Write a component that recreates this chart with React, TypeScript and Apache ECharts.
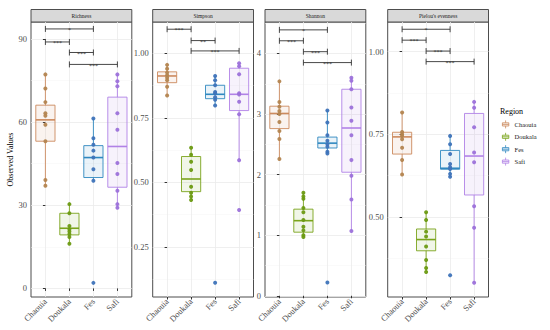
import React, { useEffect, useRef } from 'react';
import * as echarts from 'echarts';

const FONT = '"Liberation Serif", "Times New Roman", serif';

const regions = ['Chaouia', 'Doukala', 'Fes', 'Safi'];
const boxColors = ['#CC8A5E', '#7AA41C', '#2F88C0', '#B182E6'];
const boxFills = ['rgba(204,138,94,0.10)', 'rgba(122,164,28,0.10)', 'rgba(47,136,192,0.10)', 'rgba(177,130,230,0.10)'];
const pointColors = ['#B3844F', '#6C9A12', '#3E73B9', '#9C71DA'];

const panelTitles = ['Richness', 'Simpson', 'Shannon', "Pielou's evenness"];

// box stats per region: [min, q1, median, q3, max]
const richnessBox = [[37, 53.1, 60.8, 66.1, 77.2], [16.1, 19.3, 21.7, 27.1, 30.4], [38.8, 40, 47.2, 51.5, 61.3], [29.1, 36.5, 51.2, 69, 77.2]];
const richnessPoints = [
  [77.2, 72.1, 67.2, 63.2, 62.3, 59, 53.1, 39.1, 37],
  [30.4, 27.1, 22.5, 21.3, 20.5, 19.5, 18.5, 16.1],
  [61.3, 54.2, 51.8, 49.7, 47.2, 43, 38.8, 2],
  [77.2, 74.7, 72.9, 63.2, 57.2, 45.2, 41.3, 35.2, 30.4, 29.1],
];
const richnessBrackets = [[0, 2, 93.6], [0, 1, 88.9], [1, 2, 85.1], [1, 3, 80.8]];
const richnessSig = ['*', '***', '***', '***'];
const richnessRange = [-3.1, 96.1];
const richnessTicks = [0, 30, 60, 90];
const richnessMinor = [15, 45, 75];

const simpsonBox = [[0.836, 0.886, 0.912, 0.928, 0.955], [0.431, 0.464, 0.513, 0.6, 0.634], [0.798, 0.824, 0.841, 0.876, 0.912], [0.586, 0.778, 0.841, 0.942, 0.961]];
const simpsonPoints = [
  [0.955, 0.94, 0.925, 0.915, 0.905, 0.895, 0.87, 0.836],
  [0.634, 0.607, 0.58, 0.548, 0.483, 0.46, 0.445, 0.432],
  [0.912, 0.895, 0.876, 0.85, 0.845, 0.83, 0.82, 0.798, 0.111],
  [0.961, 0.95, 0.919, 0.845, 0.84, 0.812, 0.764, 0.586, 0.393],
];
const simpsonBrackets = [[0, 1, 1.093], [1, 2, 1.049], [1, 3, 1.009]];
const simpsonSig = ['***', '**', '***'];
const simpsonRange = [0.056, 1.121];
const simpsonTicks = [0.25, 0.5, 0.75, 1.0];
const simpsonMinor = [0.125, 0.375, 0.625, 0.875];

const shannonBox = [[2.26, 2.76, 3.01, 3.13, 3.54], [0.97, 1.05, 1.24, 1.43, 1.7], [2.35, 2.44, 2.52, 2.62, 3.06], [1.07, 2.04, 2.77, 3.41, 3.6]];
const shannonPoints = [
  [3.54, 3.2, 3.12, 3.05, 3.0, 2.87, 2.72, 2.59, 2.26],
  [1.7, 1.64, 1.6, 1.45, 1.38, 1.25, 1.14, 1.08, 1.0, 0.97],
  [3.06, 2.86, 2.65, 2.56, 2.5, 2.46, 2.38, 2.35, 0.22],
  [3.6, 3.55, 3.41, 3.11, 2.89, 2.65, 2.24, 1.98, 1.59, 1.07],
];
const shannonBrackets = [[0, 2, 4.39], [0, 1, 4.21], [1, 2, 4.03], [1, 3, 3.85]];
const shannonSig = ['*', '***', '***', '***'];
const shannonRange = [-0.02, 4.52];
const shannonTicks = [0, 1, 2, 3, 4];
const shannonMinor = [0.5, 1.5, 2.5, 3.5, 4.5];

const pielouBox = [[0.628, 0.69, 0.742, 0.756, 0.816], [0.333, 0.397, 0.431, 0.463, 0.514], [0.621, 0.644, 0.647, 0.701, 0.745], [0.3, 0.566, 0.684, 0.813, 0.848]];
const pielouPoints = [
  [0.816, 0.757, 0.75, 0.745, 0.735, 0.709, 0.672, 0.628],
  [0.514, 0.49, 0.455, 0.44, 0.41, 0.369, 0.345, 0.333],
  [0.745, 0.72, 0.69, 0.66, 0.65, 0.645, 0.63, 0.621, 0.323],
  [0.848, 0.83, 0.771, 0.695, 0.665, 0.532, 0.467, 0.3],
];
const pielouBrackets = [[0, 2, 1.068], [0, 1, 1.035], [1, 2, 1.002], [1, 3, 0.97]];
const pielouSig = ['*', '***', '***', '***'];
const pielouRange = [0.257, 1.09];
const pielouTicks = [0.5, 0.75, 1.0];
const pielouMinor = [0.375, 0.625, 0.875];

const panels = [
  { box: richnessBox, pts: richnessPoints, br: richnessBrackets, sig: richnessSig, range: richnessRange, ticks: richnessTicks, minor: richnessMinor, dec: 0 },
  { box: simpsonBox, pts: simpsonPoints, br: simpsonBrackets, sig: simpsonSig, range: simpsonRange, ticks: simpsonTicks, minor: simpsonMinor, dec: 2 },
  { box: shannonBox, pts: shannonPoints, br: shannonBrackets, sig: shannonSig, range: shannonRange, ticks: shannonTicks, minor: shannonMinor, dec: 0 },
  { box: pielouBox, pts: pielouPoints, br: pielouBrackets, sig: pielouSig, range: pielouRange, ticks: pielouTicks, minor: pielouMinor, dec: 2 },
];

// layout
const panelLefts = [31, 152.7, 265, 387.7];
const panelWidth = 100.8;
const panelTop = 22;
const panelHeight = 275;
const stripTop = 9.5;

function buildOption() {
  const grid: any[] = [];
  const xAxis: any[] = [];
  const yAxis: any[] = [];
  const series: any[] = [];
  const graphic: any[] = [];

  panels.forEach((p, pi) => {
    grid.push({
      left: panelLefts[pi], top: panelTop, width: panelWidth, height: panelHeight,
      show: true, borderColor: '#4D4D4D', borderWidth: 1, backgroundColor: '#ffffff',
      containLabel: false, outerBoundsMode: 'none',
    });
    xAxis.push({
      type: 'value', gridIndex: pi, min: -0.6, max: 3.6,
      axisLine: { show: false },
      axisTick: { show: true, customValues: [0, 1, 2, 3], length: 2.5, lineStyle: { color: '#333333', width: 1 } },
      axisLabel: {
        show: true, customValues: [0, 1, 2, 3], rotate: 45, margin: 3,
        formatter: (v: number) => regions[Math.round(v)],
        fontSize: 8.5, fontFamily: FONT, color: '#4D4D4D',
      },
      splitLine: { show: true, lineStyle: { color: '#EBEBEB', width: 0.8 } },
    });
    yAxis.push({
      type: 'value', gridIndex: pi, min: p.range[0], max: p.range[1],
      axisLine: { show: false },
      axisTick: { show: true, customValues: p.ticks, length: 2.5, lineStyle: { color: '#333333', width: 1 } },
      axisLabel: {
        show: true, customValues: p.ticks, margin: 4,
        formatter: (v: number) => v.toFixed(p.dec),
        fontSize: 8.5, fontFamily: FONT, color: '#4D4D4D',
      },
      splitLine: { show: true, lineStyle: { color: '#EBEBEB', width: 0.8 } },
      name: pi === 0 ? 'Observed Values' : '',
      nameLocation: 'middle', nameGap: 11,
      nameTextStyle: { fontSize: 8, fontFamily: FONT, color: '#000000' },
    });
    yAxis.push({
      type: 'value', gridIndex: pi, min: p.range[0], max: p.range[1], position: 'left',
      axisLine: { show: false },
      axisTick: { show: false, customValues: p.minor },
      axisLabel: { show: false },
      splitLine: { show: true, lineStyle: { color: '#F4F4F4', width: 0.5 } },
    });

    regions.forEach((r, ri) => {
      series.push({
        type: 'custom', name: r, xAxisIndex: pi, yAxisIndex: pi * 2, z: 2,
        itemStyle: { color: boxColors[ri] },
        data: [[ri, ...p.box[ri]]],
        renderItem: (params: any, api: any) => {
          const x = api.value(0);
          const lo = api.coord([x, api.value(1)]);
          const q1 = api.coord([x, api.value(2)]);
          const med = api.coord([x, api.value(3)]);
          const q3 = api.coord([x, api.value(4)]);
          const hi = api.coord([x, api.value(5)]);
          const w = api.size([0.8, 0])[0];
          const c = boxColors[ri];
          return {
            type: 'group',
            children: [
              { type: 'line', shape: { x1: lo[0], y1: lo[1], x2: q1[0], y2: q1[1] }, style: { stroke: c, lineWidth: 0.9 } },
              { type: 'line', shape: { x1: q3[0], y1: q3[1], x2: hi[0], y2: hi[1] }, style: { stroke: c, lineWidth: 0.9 } },
              { type: 'rect', shape: { x: q3[0] - w / 2, y: q3[1], width: w, height: q1[1] - q3[1] }, style: { fill: boxFills[ri], stroke: c, lineWidth: 0.9 } },
              { type: 'line', shape: { x1: med[0] - w / 2, y1: med[1], x2: med[0] + w / 2, y2: med[1] }, style: { stroke: c, lineWidth: 1.6 } },
            ],
          };
        },
      });
      series.push({
        type: 'scatter', name: r, xAxisIndex: pi, yAxisIndex: pi * 2, z: 3,
        symbolSize: 4, itemStyle: { color: pointColors[ri], opacity: 0.95 },
        data: p.pts[ri].map((v) => [ri, v]),
      });
    });

    series.push({
      type: 'custom', name: 'signif', xAxisIndex: pi, yAxisIndex: pi * 2, z: 4,
      data: p.br,
      renderItem: (params: any, api: any) => {
        const a = api.coord([api.value(0), api.value(2)]);
        const b = api.coord([api.value(1), api.value(2)]);
        const t = 3;
        const st = { stroke: '#333333', lineWidth: 0.9 };
        return {
          type: 'group',
          children: [
            { type: 'line', shape: { x1: a[0], y1: a[1], x2: b[0], y2: b[1] }, style: st },
            { type: 'line', shape: { x1: a[0], y1: a[1] - t, x2: a[0], y2: a[1] + t }, style: st },
            { type: 'line', shape: { x1: b[0], y1: b[1] - t, x2: b[0], y2: b[1] + t }, style: st },
            {
              type: 'text', x: (a[0] + b[0]) / 2, y: a[1] + 1.2,
              style: { text: p.sig[params.dataIndex], fill: '#333333', fontSize: 6, fontFamily: FONT, align: 'center', verticalAlign: 'middle' },
            },
          ],
        };
      },
    });

    graphic.push({
      type: 'rect', shape: { x: panelLefts[pi], y: stripTop, width: panelWidth, height: panelTop - stripTop },
      style: { fill: '#D9D9D9', stroke: '#4D4D4D', lineWidth: 1 },
    });
    graphic.push({
      type: 'text', x: panelLefts[pi] + panelWidth / 2, y: (stripTop + panelTop) / 2,
      style: { text: panelTitles[pi], fill: '#1A1A1A', fontSize: 5.5, fontFamily: FONT, align: 'center', verticalAlign: 'middle' },
    });
  });

  graphic.push({
    type: 'text', x: 500, y: 111,
    style: { text: 'Region', fill: '#000000', fontSize: 8, fontFamily: FONT, fontWeight: 'normal', align: 'left', verticalAlign: 'middle' },
  });

  const keyIcon = 'path://M5,0V3M5,7V10M1,3H9V7H1ZM1,5H9';

  return {
    animation: false,
    backgroundColor: '#ffffff',
    grid, xAxis, yAxis, series, graphic,
    legend: {
      orient: 'vertical', left: 502, top: 120, itemWidth: 8, itemHeight: 8, itemGap: 3.6,
      selectedMode: false, padding: 0,
      textStyle: { fontSize: 6.5, fontFamily: FONT, color: '#1A1A1A' },
      data: regions.map((r, i) => ({
        name: r, icon: keyIcon,
        itemStyle: { color: boxFills[i], borderColor: boxColors[i], borderWidth: 0.8 },
      })),
    },
  };
}

export default function App() {
  const ref = useRef<HTMLDivElement>(null);
  useEffect(() => {
    document.body.style.margin = '0';
    const chart = echarts.init(ref.current as HTMLDivElement, null, { renderer: 'svg' });
    chart.setOption(buildOption() as any);
    return () => chart.dispose();
  }, []);
  return <div ref={ref} style={{ width: 550, height: 330 }} />;
}
